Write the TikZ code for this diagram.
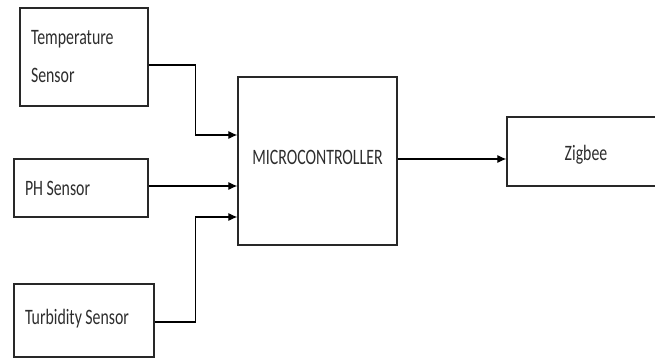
\documentclass[tikz,border=0pt]{standalone}
\usepackage{fontspec}
\setmainfont{Carlito}[FakeStretch=0.72]
\usepackage{tikz}
\usetikzlibrary{positioning,arrows.meta,calc}
\definecolor{linegray}{RGB}{40,40,40}
\definecolor{graytext}{RGB}{45,45,45}
\newcommand{\boxfont}{\fontsize{22}{38}\selectfont}
\tikzset{
    box/.style={draw=linegray, line width=1.2pt, rectangle, align=left, inner xsep=11pt, text=graytext, font=\boxfont,
        execute at begin node={\spaceskip=3.5pt\relax}},
    arrow/.style={-{Latex[length=9pt,width=8pt]}, line width=1.1pt, draw=black},
    wire/.style={line width=1.1pt, draw=black}
}

\begin{document}
\begin{tikzpicture}[x=1pt,y=-1pt]
\useasboundingbox (0,0) rectangle (655,358);
\clip (0,0) rectangle (655,358);
% sensors
\node[box, minimum width=128pt, minimum height=98pt, text width=106pt] (temp) at (84,57) {Temperature\\Sensor};
\node[box, minimum width=134pt, minimum height=58pt, text width=112pt] (ph) at (81,188) {PH Sensor};
\node[box, minimum width=140pt, minimum height=73pt, text width=118pt, text depth=8pt] (turb) at (84,320.5) {Turbidity Sensor};
% controller and radio
\node[box, align=center, minimum width=159pt, minimum height=168pt, text depth=8pt] (micro) at (317.5,161) {MICROCONTROLLER};
\node[box, align=center, minimum width=158pt, minimum height=69pt, text height=22pt] (zigbee) at (586,151.5) {Zigbee};
% connections
\draw[arrow] ([yshift=-8pt]temp.east) -- ++(47,0) |- ([yshift=26pt]micro.west);
\draw[arrow] ([yshift=2pt]ph.east) -- ([yshift=-25pt]micro.west);
\draw[arrow] ([yshift=-1.5pt]turb.east) -- ++(41,0) |- ([yshift=-56pt]micro.west);
\draw[arrow] ([yshift=2pt]micro.east) -- ([yshift=2pt]micro.east -| zigbee.west);
\end{tikzpicture}
\end{document}
